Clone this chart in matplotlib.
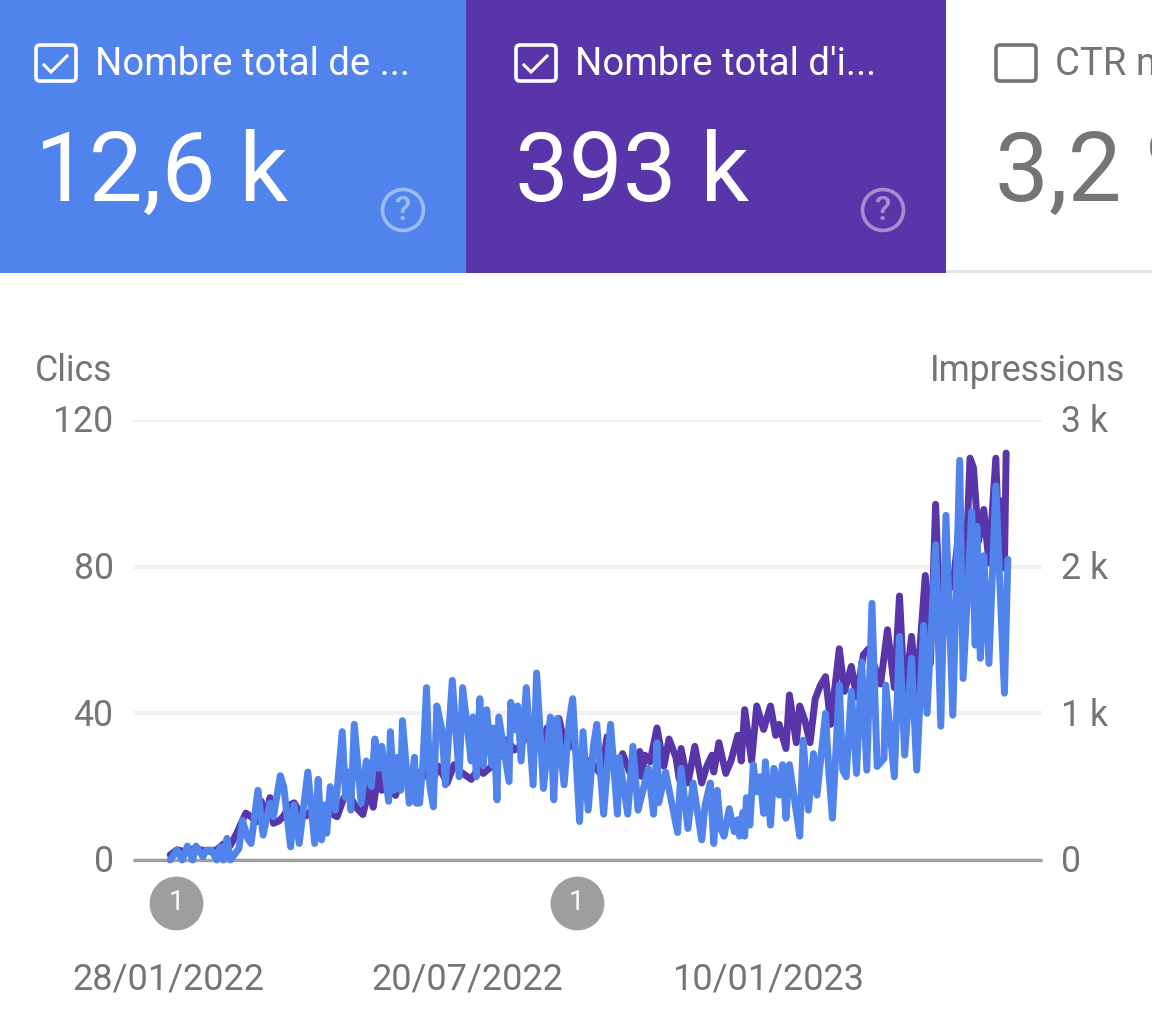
import matplotlib
matplotlib.use("Agg")
import matplotlib.pyplot as plt
from matplotlib.patches import Rectangle, FancyBboxPatch, Circle
from matplotlib.transforms import ScaledTranslation
import pandas as pd

plt.rcParams['font.family'] = ['Roboto', 'DejaVu Sans']

W, H = 1152, 1034

# values, day offsets count from the first date
start_date = "2022-01-28"

clicks_days = [1, 5, 8, 11, 14, 16, 20, 22, 25, 28, 30, 32, 34, 36, 41, 43, 46, 48, 52, 55, 59, 61, 65, 67, 71, 73, 76,
               81, 85, 87, 89, 91, 92, 94, 97, 101, 103, 104, 106, 108, 112, 115, 118, 120, 122, 124, 128, 129, 131,
               133, 135, 136, 140, 143, 144, 146, 148, 150, 152, 154, 156, 159, 161, 165, 169, 171, 176, 177, 179,
               181, 183, 185, 188, 189, 191, 192, 198, 199, 201, 203, 205, 208, 212, 214, 218, 222, 224, 226, 230,
               233, 235, 239, 241, 244, 247, 249, 253, 257, 261, 262, 267, 270, 273, 279, 282, 284, 285, 289, 296,
               298, 302, 305, 310, 312, 315, 317, 319, 321, 323, 326, 329, 331, 332, 334, 335, 336, 338, 340, 342,
               344, 346, 347, 350, 352, 355, 357, 359, 361, 364, 367, 369, 372, 375, 377, 382, 384, 386, 390, 392,
               394, 397, 400, 403, 406, 409, 412, 416, 417, 422, 425, 428, 432, 435, 439, 441, 446, 449, 452, 456,
               460, 462, 467, 469, 470, 472, 474, 477, 481, 486, 488]
clicks = [0, 2.7, 0, 3.8, 0, 3.8, 0.9, 2.7, 2.7, 0, 3.6, 0, 5.9, 0, 3.2, 10.9, 5.9, 4.5, 19, 6.8, 15.5, 11.8, 23, 20,
          3.6, 15, 4.5, 24, 4.5, 22, 5.5, 15, 7.3, 20, 13.6, 35, 17, 24, 13.6, 37, 15.5, 27, 20, 33, 25, 31, 16, 35,
          19, 28, 19, 38, 15.5, 28, 15.5, 15.5, 27, 47, 20, 14.5, 42, 35.5, 20.5, 49, 22.7, 47, 27, 39, 22.7, 44, 26,
          41, 26, 36, 16.4, 39, 21.4, 43, 35.5, 42, 27, 47, 20.5, 51, 19.5, 39, 16.4, 38.6, 20.5, 38, 44, 10.5, 35,
          13.6, 31, 37, 12.5, 37, 12.5, 28, 12.5, 31, 13.6, 25, 12.5, 32, 15.6, 24, 7.5, 25, 8.6, 21, 5.5, 15, 21,
          4.5, 19, 8.6, 6.5, 14, 7.7, 11, 6.5, 13, 6.5, 17, 9.5, 26, 18.6, 22.7, 12.7, 26.8, 9.5, 25, 17.7, 26, 11.4,
          26, 16.4, 6.5, 32.7, 13.6, 29, 17.7, 40, 23.6, 11.4, 47.7, 24.5, 22.7, 46, 23.6, 54, 24.5, 70, 25.5, 27.7,
          47.7, 22.7, 61, 28.6, 55, 24.5, 64, 40, 86, 36.5, 94, 39.5, 109, 49.5, 95, 58.6, 91, 55, 83, 53.6, 102,
          45.5, 82]

impressions_days = [1, 5, 10, 14, 18, 24, 28, 32, 36, 40, 43, 45, 48, 51, 54, 57, 59, 61, 64, 67, 70, 73, 76, 80, 85,
                    91, 98, 102, 106, 109, 113, 117, 119, 122, 124, 128, 132, 136, 140, 144, 149, 153, 157, 162, 166,
                    170, 176, 180, 183, 188, 192, 197, 201, 205, 210, 214, 218, 220, 224, 227, 231, 235, 238, 240, 245,
                    251, 253, 255, 260, 264, 268, 271, 274, 275, 277, 280, 284, 288, 291, 295, 297, 298, 302, 306, 310,
                    313, 316, 317, 320, 324, 327, 331, 333, 335, 339, 342, 346, 350, 353, 355, 359, 361, 365, 367, 370,
                    373, 376, 379, 382, 385, 390, 393, 397, 400, 404, 407, 414, 418, 422, 425, 428, 432, 435, 440, 443,
                    446, 449, 452, 456, 460, 463, 466, 468, 471, 474, 477, 481, 483, 485, 486, 487]
impressions = [35, 70, 55, 75, 70, 60, 70, 110, 100, 190, 270, 320, 295, 260, 400, 280, 425, 250, 265, 300, 370, 390,
               330, 300, 370, 340, 295, 425, 425, 360, 310, 500, 360, 600, 475, 500, 440, 575, 500, 590, 610, 520, 640,
               525, 650, 600, 550, 620, 590, 640, 700, 820, 750, 780, 900, 800, 715, 900, 880, 965, 750, 800, 700, 610,
               680, 590, 690, 840, 590, 725, 600, 660, 740, 570, 715, 670, 900, 640, 825, 700, 550, 760, 525, 775, 525,
               640, 715, 600, 800, 590, 675, 850, 675, 1025, 675, 1050, 890, 1050, 850, 925, 760, 1125, 800, 1050, 950,
               800, 1100, 1190, 1250, 925, 1440, 1150, 1320, 1110, 1400, 1440, 1200, 1570, 1175, 1800, 1090, 1525, 1150,
               1940, 1340, 2425, 1500, 2000, 1860, 2300, 1840, 2740, 2675, 2175, 2390, 2025, 2740, 2070, 2450, 1990, 2775]

annotation_days = [4.5, 236]
annotation_labels = ["1", "1"]

clicks_ticks = [0, 40, 80, 120]
clicks_tick_labels = ["0", "40", "80", "120"]
impressions_ticks = [0, 1000, 2000, 3000]
impressions_tick_labels = ["0", "1 k", "2 k", "3 k"]
date_ticks = ["2022-01-28", "2022-07-20", "2023-01-10"]
date_tick_labels = ["28/01/2022", "20/07/2022", "10/01/2023"]

card_titles = ["Nombre total de ...", "Nombre total d'i...", "CTR moyen"]
card_values = ["12,6 k", "393 k", "3,2 %"]

BLUE = "#5083eb"
PURPLE = "#5835a9"
GREY = "#757575"
LABEL_SIZE = 25.7

# pixels per day on the x axis, the day offsets above were read at 1.72
PX_PER_DAY = 1.729
DAY_FIX = 1.72 / PX_PER_DAY

fig = plt.figure(figsize=(W / 100, H / 100), dpi=100, facecolor="white")

# header cards, in pixel coordinates
bg = fig.add_axes([0, 0, 1, 1])
bg.set_xlim(0, W)
bg.set_ylim(H, 0)
bg.axis("off")

bg.add_patch(Rectangle((0, 0), 466, 273, fc=BLUE, ec="none"))
bg.add_patch(Rectangle((466, 0), 480, 273, fc=PURPLE, ec="none"))
bg.add_patch(Rectangle((946, 270), 206, 3, fc="#e2e2e2", ec="none"))

for i in range(3):
    off = 480 * i
    col = "white" if i < 2 else GREY
    bg.add_patch(FancyBboxPatch((36 + off, 45), 40, 36, boxstyle="round,pad=0,rounding_size=4",
                                fc="none", ec=col, lw=2.6))
    if i < 2:
        bg.plot([44 + off, 51 + off, 67 + off], [65, 72, 56], color="white", lw=2.2, solid_joinstyle="miter")
        bg.add_patch(Circle((403 + off, 210), 20.5, fc="none", ec="white", lw=2.6, alpha=0.45))
        bg.text(403 + off, 211, "?", color="white", alpha=0.45, fontsize=24, weight="medium",
                ha="center", va="center")
    bg.text(95 + off, 75, card_titles[i], color=col, fontsize=27.5, ha="left", va="baseline", clip_on=True)
    bg.text(35 + off, 201, card_values[i], color=col, fontsize=69, ha="left", va="baseline", clip_on=True)

# chart, the left axis runs from px 133 to 1042 and 420 to 860
t0 = pd.Timestamp(start_date)
dates_c = t0 + pd.to_timedelta([d * DAY_FIX for d in clicks_days], unit="D")
dates_i = t0 + pd.to_timedelta([d * DAY_FIX for d in impressions_days], unit="D")
xlim = (t0 + pd.Timedelta(days=(133 - 168.5) / PX_PER_DAY), t0 + pd.Timedelta(days=(1042 - 168.5) / PX_PER_DAY))

ax_imp = fig.add_axes([133 / W, 1 - 860 / H, (1042 - 133) / W, 440 / H])
ax = ax_imp.twinx()

# impressions axis sits behind so the grid stays under the lines
ax_imp.patch.set_visible(False)
ax_imp.set_ylim(0, 3000)
ax_imp.set_xlim(xlim)
ax_imp.yaxis.tick_right()
ax_imp.set_yticks(impressions_ticks, impressions_tick_labels)
ax_imp.grid(axis="y", color="#f1f1f1", lw=3)
ax_imp.set_axisbelow(True)
ax_imp.axhline(0, color="#a0a0a0", lw=2.4, solid_capstyle="butt", clip_on=False, zorder=1.5)
ax_imp.plot(dates_i, impressions, color=PURPLE, lw=5, solid_joinstyle="round",
            solid_capstyle="round", clip_on=False, zorder=2)

ax.patch.set_visible(False)
ax.set_ylim(0, 120)
ax.yaxis.tick_left()
ax.set_yticks(clicks_ticks, clicks_tick_labels)
ax.plot(dates_c, clicks, color=BLUE, lw=5, solid_joinstyle="round", solid_capstyle="round", clip_on=False, zorder=3)
ax.set_xlim(xlim)

ann_dates = t0 + pd.to_timedelta(annotation_days, unit="D")
ax.scatter(ann_dates, [-11.7] * len(ann_dates), s=1500, color="#9e9e9e", clip_on=False, zorder=4, linewidths=0)
for d, lab in zip(ann_dates, annotation_labels):
    ax.text(d, -11.7, lab, color="white", fontsize=20, ha="center", va="center", zorder=5)

ax_imp.set_xticks(pd.to_datetime(date_ticks), date_tick_labels)
ax_imp.tick_params(axis="x", length=0, pad=73, labelsize=26, labelcolor=GREY)
ax.tick_params(axis="y", length=0, pad=14, labelsize=LABEL_SIZE, labelcolor=GREY, labelleft=True, labelright=False)
ax_imp.tick_params(axis="y", length=0, pad=14, labelsize=LABEL_SIZE, labelcolor=GREY, labelright=True, labelleft=False)
for a in (ax, ax_imp):
    for s in a.spines.values():
        s.set_visible(False)

# nudge the y labels up a little
nudge = ScaledTranslation(0, 1.5 / 100, fig.dpi_scale_trans)
for lbl in ax.get_yticklabels() + ax_imp.get_yticklabels():
    lbl.set_transform(lbl.get_transform() + nudge)

bg.text(35, 381, "Clics", color=GREY, fontsize=LABEL_SIZE, ha="left", va="baseline")
bg.text(1125, 381, "Impressions", color=GREY, fontsize=LABEL_SIZE, ha="right", va="baseline")

fig.savefig("out.png", dpi=100)
